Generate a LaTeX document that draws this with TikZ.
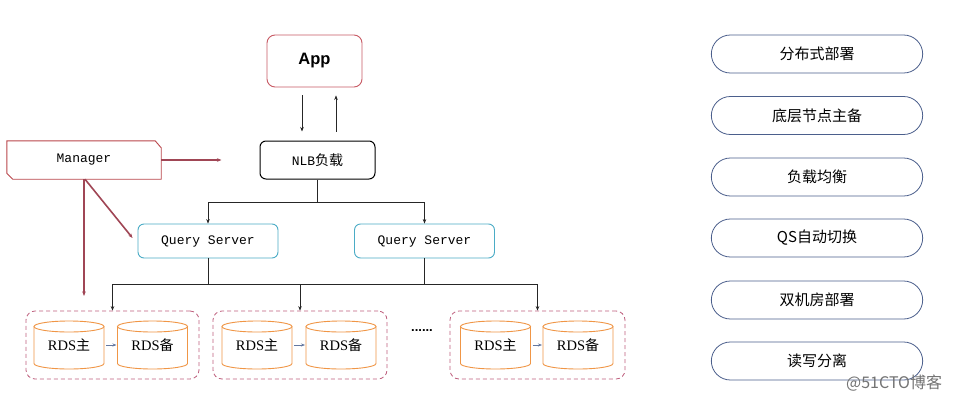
\documentclass[tikz,border=0pt]{standalone}
\usepackage{fontspec}
\setmonofont{Liberation Mono}
\newfontfamily\cjk{Noto Sans CJK SC}
\newfontfamily\serifr{Liberation Serif}
\newfontfamily\sansb{Liberation Sans}
\usetikzlibrary{arrows.meta,shapes.misc}
\definecolor{appred}{RGB}{200,90,100}
\definecolor{mgrred}{RGB}{185,70,75}
\definecolor{linered}{RGB}{160,70,85}
\definecolor{qsteal}{RGB}{75,172,198}
\definecolor{cylorange}{RGB}{240,150,70}
\definecolor{grpdash}{RGB}{190,95,125}
\definecolor{pillblue}{RGB}{75,95,140}
\definecolor{smallarr}{RGB}{100,120,160}
\tikzset{
  tip/.style={-{Stealth[length=4.5pt,width=3.5pt]}},
  blk/.style={draw=black!85, line width=0.6pt},
  appbox/.style={draw=appred, line width=0.9pt, rounded corners=8pt, minimum width=95pt, minimum height=52pt, font=\sansb\bfseries\fontsize{16.5}{18}\selectfont},
  nlbbox/.style={draw=black, line width=1pt, rounded corners=6pt, minimum width=115pt, minimum height=38pt},
  qsbox/.style={draw=qsteal, line width=0.9pt, rounded corners=6pt, minimum width=140pt, minimum height=34pt, font=\ttfamily\fontsize{13}{15}\selectfont},
  grp/.style={draw=grpdash, line width=0.8pt, dash pattern=on 4pt off 3pt, rounded corners=9pt, minimum height=68pt, inner sep=0pt},
  cyltext/.style={minimum width=70pt, minimum height=48pt, inner sep=0pt, outer sep=0pt},
  cylline/.style={draw=cylorange, line width=0.9pt},
  pill/.style={rounded rectangle, draw=pillblue, line width=0.8pt, minimum width=218pt, minimum height=38pt, font=\cjk\fontsize{15}{16}\selectfont},
  mgrline/.style={draw=linered, line width=1.6pt},
  cylarr/.style={draw=smallarr, line width=0.6pt, -{Stealth[length=4pt,width=3pt]}},
}
\newcommand\mycyl[4]{%
  \node[cyltext] (#1) at (#2,#3) {\fontsize{14.5}{16}\selectfont\serifr RDS\cjk\fontsize{14}{16}\selectfont #4};
  \draw[cylline] ([yshift=-5.5pt]#1.north west) -- ([yshift=5.5pt]#1.south west)
     arc[start angle=180,end angle=360,x radius=35pt,y radius=5.5pt] -- ([yshift=-5.5pt]#1.north east);
  \draw[cylline] ([yshift=-5.5pt]#1.north) ellipse[x radius=35pt,y radius=5.5pt];
}
\begin{document}
\begin{tikzpicture}[x=1pt,y=1pt]
\fill[white] (0,0) rectangle (955,-402);
\useasboundingbox (0,0) rectangle (955,-402);

% App and NLB
\node[appbox] (app) at (314.5,-61) {App};
\node[nlbbox] (nlb) at (317.5,-160) {\ttfamily\fontsize{13}{15}\selectfont NLB\cjk\fontsize{14}{15}\selectfont 负载};
\draw[blk,tip] ([xshift=-12.5pt,yshift=-8pt]app.south) -- ([xshift=-15.5pt,yshift=9pt]nlb.north);
\draw[blk,tip] ([xshift=18.5pt,yshift=9pt]nlb.north) -- ([xshift=21.5pt,yshift=-8pt]app.south);

% Manager
\node[minimum width=154pt, minimum height=38pt, font=\ttfamily\fontsize{13}{15}\selectfont] (mgr) at (84,-160) {Manager};
\draw[draw=mgrred, line width=0.9pt] (mgr.north west) -- ([xshift=-6pt]mgr.north east) -- ([yshift=-7pt]mgr.north east)
   -- (mgr.south east) -- ([xshift=6pt]mgr.south west) -- ([yshift=6pt]mgr.south west) -- cycle;
\coordinate (mgrto) at ([xshift=-38pt]nlb.west);
\draw[mgrline,tip] (mgr.east) -- (mgrto);

% Query servers
\node[qsbox] (qs1) at (208,-241) {Query Server};
\node[qsbox] (qs2) at (424.5,-241) {Query Server};
\coordinate (bus1) at (0,-202);
\draw[blk] (nlb.south) -- (nlb.south |- bus1);
\draw[blk] (qs1.north |- bus1) -- (qs2.north |- bus1);
\draw[blk,tip] (qs1.north |- bus1) -- (qs1.north);
\draw[blk,tip] (qs2.north |- bus1) -- (qs2.north);

% groups
\node[grp, minimum width=173pt] (g1) at (112.5,-345) {};
\node[grp, minimum width=174pt] (g2) at (300,-345) {};
\node[grp, minimum width=175pt] (g3) at (537.5,-345) {};
\node[font=\sansb\bfseries\fontsize{13}{14}\selectfont] (dots) at (422,-331) {......};

\coordinate (bus2) at (0,-284);
\draw[blk] (qs1.south) -- (qs1.south |- bus2);
\draw[blk] (qs2.south) -- (qs2.south |- bus2);
\draw[blk] (g1.north |- bus2) -- (g3.north |- bus2);
\draw[blk,tip] (g1.north |- bus2) -- (g1.north);
\draw[blk,tip] (g2.north |- bus2) -- (g2.north);
\draw[blk,tip] (g3.north |- bus2) -- (g3.north);

% Manager lines
\coordinate (mv) at (84,-296);
\coordinate (md) at ([xshift=-5pt,yshift=3pt]qs1.west);
\draw[mgrline,tip] (mgr.south) -- (mv);
\draw[mgrline,tip] ([xshift=1pt]mgr.south) -- (md);

% cylinders
\mycyl{c1}{69}{-345}{主}
\mycyl{c2}{152.5}{-345}{备}
\mycyl{c3}{257}{-345}{主}
\mycyl{c4}{341}{-345}{备}
\mycyl{c5}{495.5}{-345}{主}
\mycyl{c6}{578}{-345}{备}
\draw[cylarr] ([xshift=2pt]c1.east) -- ([xshift=-1pt]c2.west);
\draw[cylarr] ([xshift=2pt]c3.east) -- ([xshift=-1pt]c4.west);
\draw[cylarr] ([xshift=2pt]c5.east) -- ([xshift=-1pt]c6.west);

% right pills
\node[pill] (p1) at (817,-54) {分布式部署};
\node[pill] (p2) at (817,-115.5) {底层节点主备};
\node[pill] (p3) at (817,-177) {负载均衡};
\node[pill] (p4) at (817,-238) {QS自动切换};
\node[pill] (p5) at (817,-300) {双机房部署};
\node[pill] (p6) at (817,-361) {读写分离};

% watermark
\node[font=\cjk\fontsize{16}{18}\selectfont, text=black!55, anchor=west, inner sep=0pt] (wm) at (846,-383) {@51CTO博客};
\end{tikzpicture}
\end{document}
